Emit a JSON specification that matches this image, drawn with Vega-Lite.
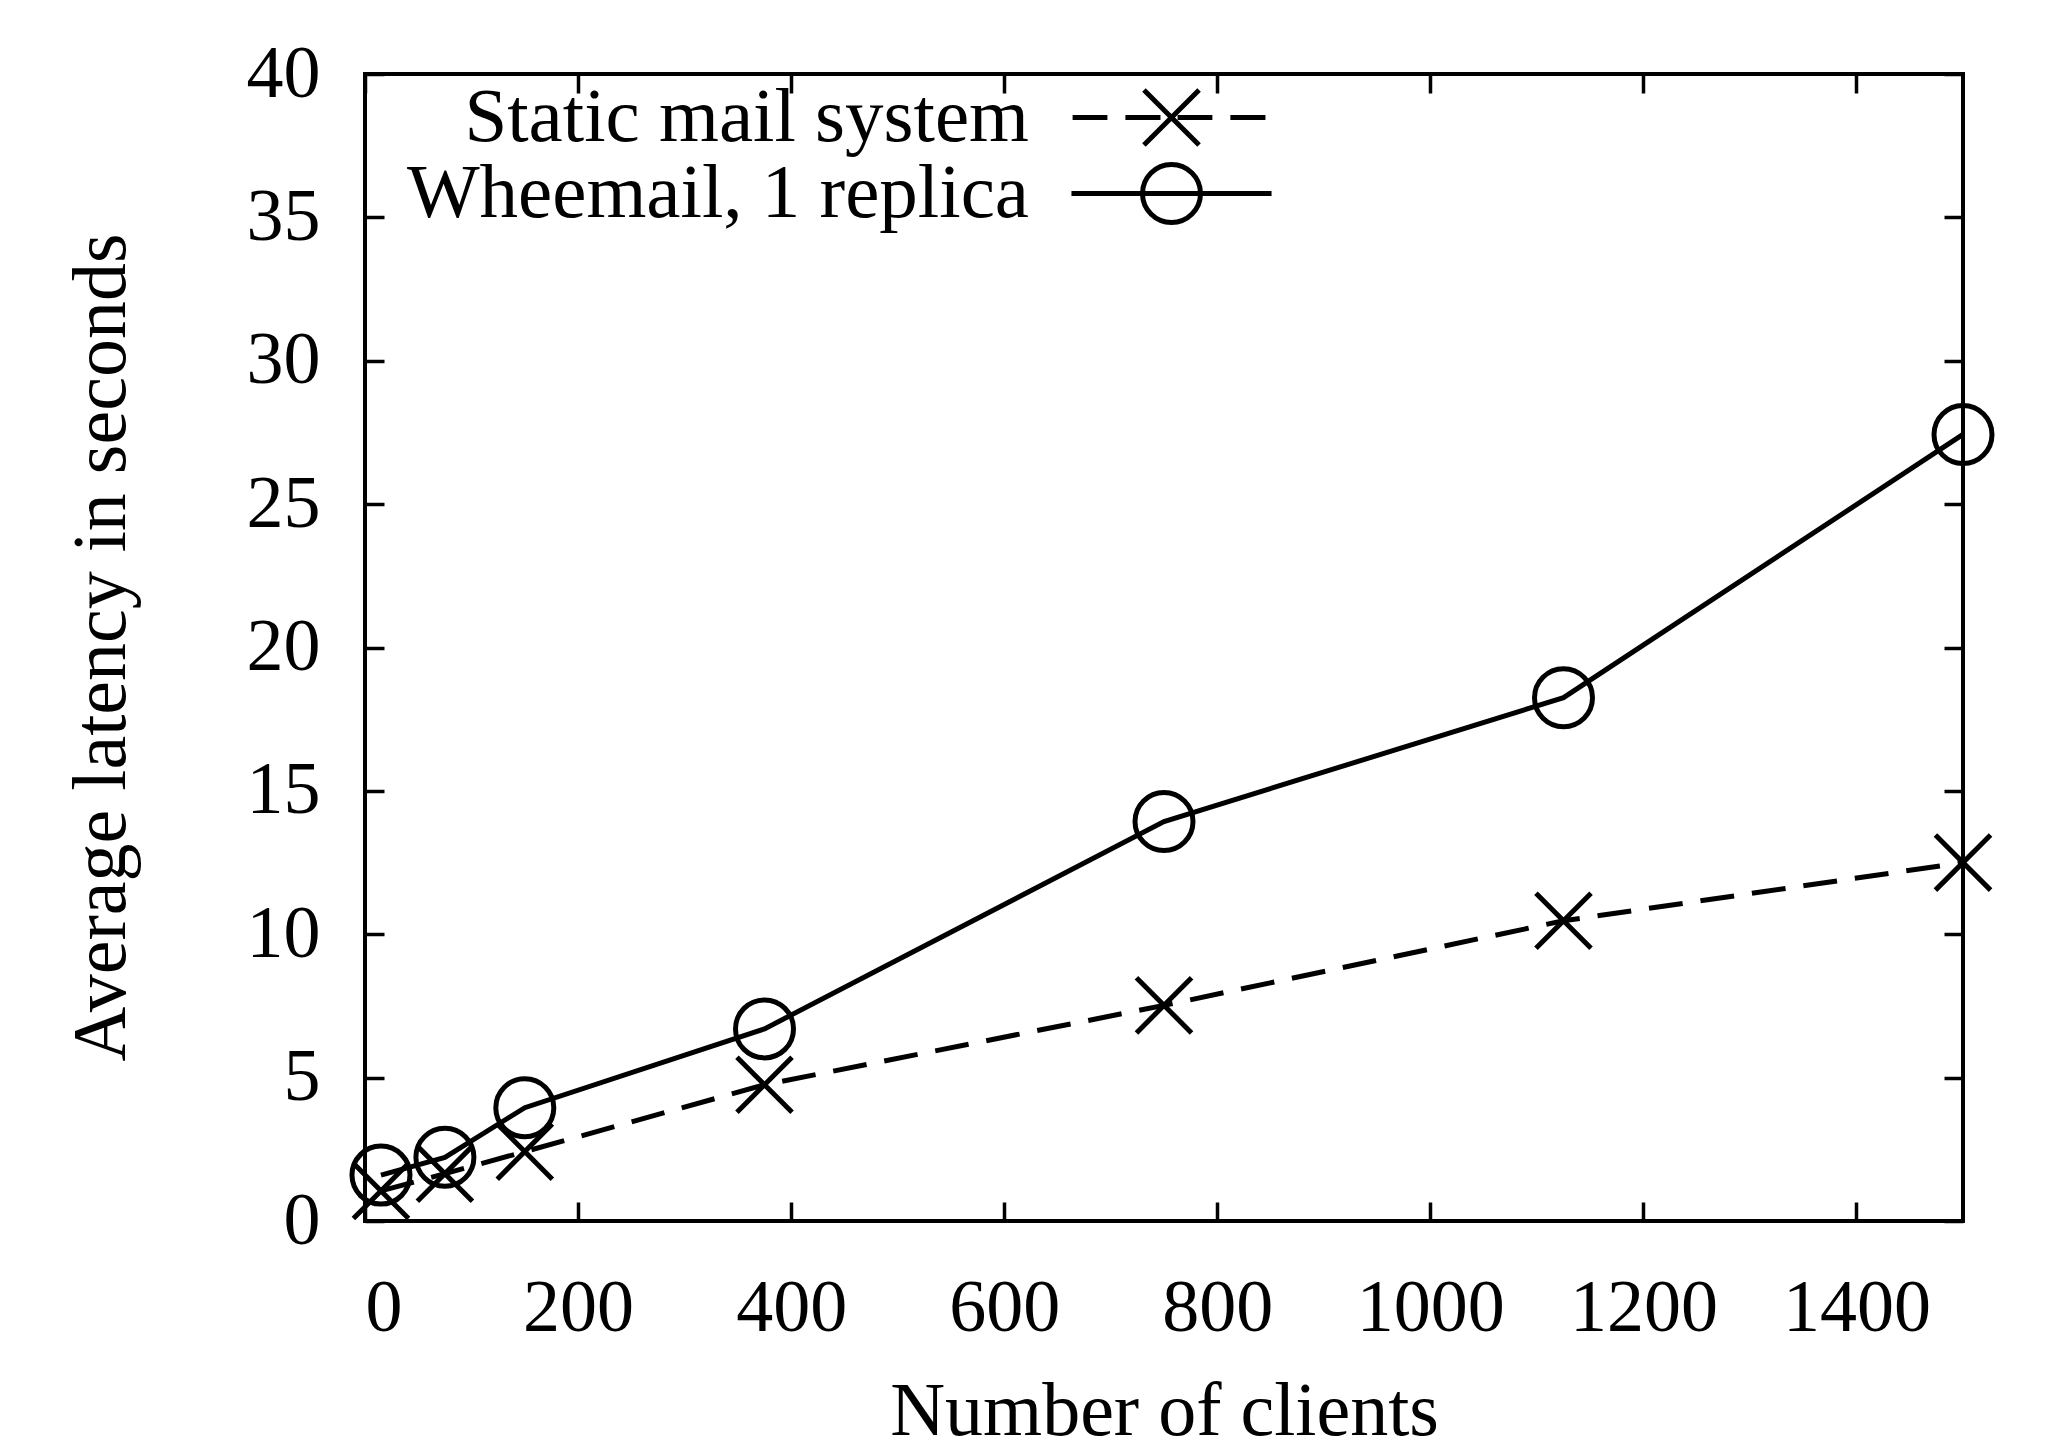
{
  "$schema": "https://vega.github.io/schema/vega-lite/v6.json",
  "width": 1598,
  "height": 1147,
  "autosize": {"type": "none"},
  "padding": {"left": 365, "top": 74, "right": 82, "bottom": 233},
  "background": "white",
  "config": {
    "font": "Liberation Serif",
    "view": {"stroke": "black", "strokeWidth": 4},
    "axis": {
      "domain": false,
      "grid": false,
      "tickColor": "black",
      "tickWidth": 3.5,
      "tickSize": -19,
      "labelColor": "black",
      "labelFont": "Liberation Serif",
      "labelFontSize": 74,
      "titleFont": "Liberation Serif",
      "titleFontSize": 76,
      "titleFontWeight": "normal",
      "titleColor": "black"
    },
    "legend": {
      "title": null,
      "orient": "none",
      "padding": 0,
      "symbolSize": 3364,
      "symbolStrokeWidth": 5,
      "symbolStrokeColor": "black",
      "symbolFillColor": "transparent",
      "labelFont": "Liberation Serif",
      "labelFontSize": 77,
      "labelColor": "black",
      "labelAlign": "right",
      "labelBaseline": "middle",
      "labelOffset": -181,
      "labelLimit": 2000
    }
  },
  "data": {
    "values": [
      {"clients": 15, "latency": 1.05, "series": "Static mail system"},
      {"clients": 75, "latency": 1.65, "series": "Static mail system"},
      {"clients": 150, "latency": 2.42, "series": "Static mail system"},
      {"clients": 375, "latency": 4.75, "series": "Static mail system"},
      {"clients": 750, "latency": 7.52, "series": "Static mail system"},
      {"clients": 1125, "latency": 10.47, "series": "Static mail system"},
      {"clients": 1500, "latency": 12.5, "series": "Static mail system"},
      {"clients": 15, "latency": 1.6, "series": "Wheemail, 1 replica"},
      {"clients": 75, "latency": 2.22, "series": "Wheemail, 1 replica"},
      {"clients": 150, "latency": 3.95, "series": "Wheemail, 1 replica"},
      {"clients": 375, "latency": 6.7, "series": "Wheemail, 1 replica"},
      {"clients": 750, "latency": 13.93, "series": "Wheemail, 1 replica"},
      {"clients": 1125, "latency": 18.25, "series": "Wheemail, 1 replica"},
      {"clients": 1500, "latency": 27.43, "series": "Wheemail, 1 replica"}
    ]
  },
  "resolve": {"axis": {"x": "independent", "y": "independent"}},
  "layer": [
    {
      "transform": [{"filter": "datum.series === 'Static mail system'"}],
      "mark": {"type": "line", "stroke": "black", "strokeWidth": 5, "clip": false},
      "encoding": {
        "x": {
          "field": "clients", "type": "quantitative",
          "scale": {"domain": [0, 1500], "nice": false},
          "axis": {
            "orient": "bottom",
            "values": [0, 200, 400, 600, 800, 1000, 1200, 1400],
            "format": "d",
            "labelPadding": 70,
            "labelDx": 9,
            "title": "Number of clients",
            "titleX": 799,
            "titleY": 213,
            "titleBaseline": "alphabetic",
            "titleAnchor": "middle"
          }
        },
        "y": {
          "field": "latency", "type": "quantitative",
          "scale": {"domain": [0, 40], "nice": false},
          "axis": {
            "orient": "left",
            "values": [0, 5, 10, 15, 20, 25, 30, 35, 40],
            "labelPadding": 64,
            "title": "Average latency in seconds",
            "titleAngle": -90,
            "titleX": -241,
            "titleY": 573,
            "titleAlign": "center",
            "titleBaseline": "alphabetic"
          }
        },
        "strokeDash": {
          "field": "series", "type": "nominal",
          "scale": {"domain": ["Static mail system", "Wheemail, 1 replica"], "range": [[34, 18], [1, 0]]},
          "legend": null
        },
        "opacity": {
          "field": "series", "type": "nominal",
          "scale": {"domain": ["Static mail system"], "range": [1, 1]},
          "legend": {
            "legendX": 768,
            "legendY": 5,
            "symbolType": "M-3.41,0L-2.21,0M-1.59,0L-0.38,0M0.21,0L1.41,0M2.03,0L3.24,0M-0.95,-0.95L0.95,0.95M-0.95,0.95L0.95,-0.95"
          }
        }
      }
    },
    {
      "transform": [{"filter": "datum.series === 'Wheemail, 1 replica'"}],
      "mark": {"type": "line", "stroke": "black", "clip": false},
      "encoding": {
        "x": {"field": "clients", "type": "quantitative", "axis": null},
        "y": {"field": "latency", "type": "quantitative", "axis": null},
        "strokeWidth": {
          "field": "series", "type": "nominal",
          "scale": {"domain": ["Wheemail, 1 replica"], "range": [5, 5]},
          "legend": {
            "legendX": 768,
            "legendY": 81,
            "symbolType": "M-3.45,0L3.45,0M1,0A1,1,0,1,1,-1,0A1,1,0,1,1,1,0"
          }
        }
      }
    },
    {
      "mark": {"type": "point", "filled": false, "stroke": "black", "strokeWidth": 5, "size": 3364, "opacity": 1, "clip": false},
      "encoding": {
        "x": {
          "field": "clients", "type": "quantitative",
          "axis": {"orient": "top", "values": [0, 200, 400, 600, 800, 1000, 1200, 1400], "labels": false, "title": null}
        },
        "y": {
          "field": "latency", "type": "quantitative",
          "axis": {"orient": "right", "values": [0, 5, 10, 15, 20, 25, 30, 35, 40], "labels": false, "title": null}
        },
        "shape": {
          "condition": {"test": "datum.series === 'Static mail system'", "value": "M-0.95,-0.95L0.95,0.95M-0.95,0.95L0.95,-0.95"},
          "value": "circle"
        }
      }
    }
  ]
}
